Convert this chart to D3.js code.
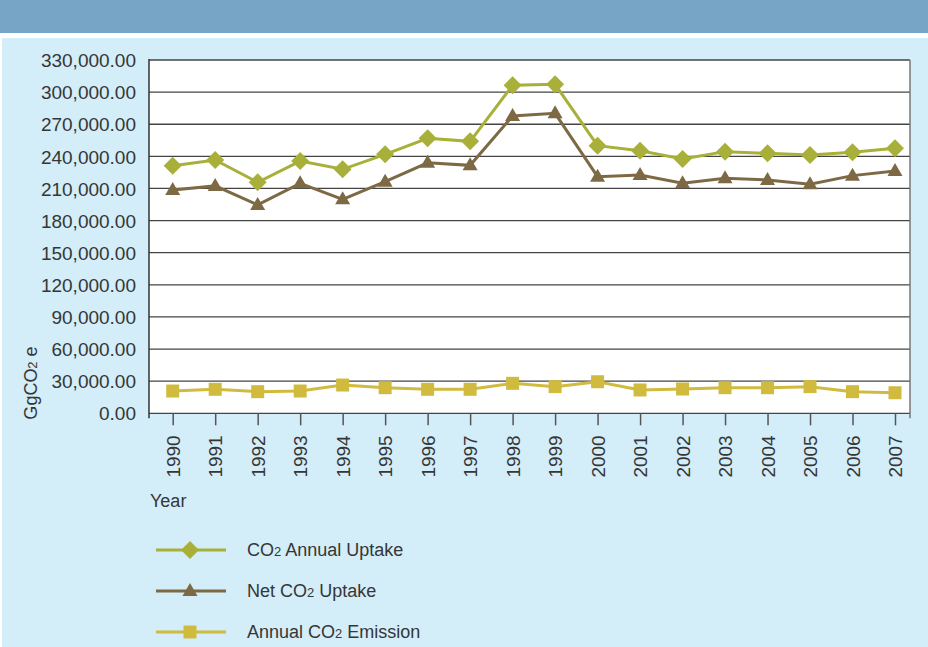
<!DOCTYPE html>
<html>
<head>
<meta charset="utf-8">
<script src="https://cdn.jsdelivr.net/npm/d3@7"></script>
<style>
  body { margin: 0; background: #d3edf9; }
  svg { display: block; font-family: "Liberation Sans", Arial, sans-serif; }
  .axis text { fill: #363636; font-size: 19px; }
</style>
</head>
<body>
<div id="chart"></div>
<script>
const years = ["1990","1991","1992","1993","1994","1995","1996","1997","1998",
  "1999","2000","2001","2002","2003","2004","2005","2006","2007"];
const annualUptake = [231300, 236600, 215800, 235600, 227900, 241900, 256900, 254000, 306400,
  307300, 250000, 245300, 237500, 244400, 242800, 241300, 243800, 247500];
const netUptake = [208600, 212400, 194600, 214800, 199900, 216300, 234000, 231600, 277700,
  280200, 221000, 222600, 214800, 219500, 217900, 213900, 222000, 226300];
const annualEmission = [20800, 22400, 20200, 20800, 26400, 23900, 22400, 22400, 28000,
  24900, 29500, 21800, 22700, 23900, 23900, 24900, 20200, 19200];
const yTicks = [0, 30000, 60000, 90000, 120000, 150000, 180000, 210000, 240000, 270000, 300000, 330000];
const seriesNames = ["Annual Uptake", "Net Uptake", "Annual Emission"];

let w = 928;
let h = 647;
let plotLeft = 149;
let plotRight = 910;
let plotTop = 60;
let plotBottom = 413.3;

let svg = d3.select("#chart").append("svg").attr("width", w).attr("height", h);

// background bands
svg.append("rect").attr("width", w).attr("height", h).attr("fill", "#fff");
svg.append("rect").attr("x", 0).attr("y", 0).attr("width", w).attr("height", 33).attr("fill", "#77a5c5");
svg.append("rect").attr("x", 2).attr("y", 38).attr("width", w - 2).attr("height", h - 38).attr("fill", "#d3edf9");

let x = d3.scalePoint().domain(years).range([172.7, 895]);
let y = d3.scaleLinear().domain([0, 330000]).range([plotBottom, plotTop]);

svg.append("rect")
  .attr("x", plotLeft).attr("y", plotTop)
  .attr("width", plotRight - plotLeft).attr("height", plotBottom - plotTop)
  .attr("fill", "#fff");

// gridlines
svg.append("g")
  .selectAll("line")
  .data(yTicks)
  .join("line")
  .attr("x1", plotLeft).attr("x2", plotRight)
  .attr("y1", d => y(d)).attr("y2", d => y(d))
  .attr("stroke", "#444").attr("stroke-width", 1.3);

// right border
svg.append("line")
  .attr("x1", plotRight).attr("x2", plotRight)
  .attr("y1", plotTop).attr("y2", plotBottom + 5)
  .attr("stroke", "#777").attr("stroke-width", 1.5);

// y axis
let yAxis = d3.axisLeft(y).tickValues(yTicks).tickFormat(d3.format(",.2f")).tickSize(0).tickPadding(13);
let gy = svg.append("g").attr("class", "axis").attr("transform", `translate(${plotLeft},0)`).call(yAxis);
gy.select(".domain").remove();
gy.selectAll("text").attr("dy", "0.35em");
svg.append("line")
  .attr("x1", plotLeft).attr("x2", plotLeft)
  .attr("y1", plotTop - 1).attr("y2", plotBottom + 5)
  .attr("stroke", "#333").attr("stroke-width", 1.5);

// x axis
let xAxis = d3.axisBottom(x).tickSize(12).tickPadding(10);
let gx = svg.append("g").attr("class", "axis").attr("transform", `translate(0,${plotBottom})`).call(xAxis);
gx.select(".domain").remove();
gx.selectAll(".tick line").attr("stroke", "#555").attr("stroke-width", 1.5);
gx.selectAll("text")
  .attr("transform", "rotate(-90)")
  .attr("text-anchor", "end")
  .attr("x", -22).attr("y", 0).attr("dy", "0.35em");

// axis titles
let yTitle = svg.append("text")
  .attr("transform", "translate(37,383) rotate(-90)")
  .attr("text-anchor", "middle")
  .attr("fill", "#363636").attr("font-size", 18);
yTitle.append("tspan").text("GgCO");
yTitle.append("tspan").attr("font-size", 13).text("2");
yTitle.append("tspan").text(" e");

svg.append("text")
  .attr("x", 150).attr("y", 507)
  .attr("fill", "#363636").attr("font-size", 18)
  .text("Year");

// series
const series = [
  { values: annualUptake, color: "#a8b03a", shape: "diamond" },
  { values: netUptake, color: "#7d6a45", shape: "triangle" },
  { values: annualEmission, color: "#d1bb3f", shape: "square" },
];

function marker(shape) {
  if (shape === "diamond") return "M0,-9L9,0L0,9L-9,0Z";
  if (shape === "triangle") return "M0,-8L7.5,5L-7.5,5Z";
  return "M-6.5,-6.5H6.5V6.5H-6.5Z";
}

let line = d3.line().x((d, i) => x(years[i])).y(d => y(d));

series.forEach(function (s) {
  let g = svg.append("g");
  g.append("path")
    .attr("d", line(s.values))
    .attr("fill", "none")
    .attr("stroke", s.color)
    .attr("stroke-width", 3);
  g.selectAll("path.m")
    .data(s.values)
    .join("path")
    .attr("class", "m")
    .attr("transform", (d, i) => `translate(${x(years[i])},${y(d)})`)
    .attr("d", marker(s.shape))
    .attr("fill", s.color);
});

// legend
const legendY = [550, 591, 632];
series.forEach(function (s, i) {
  let g = svg.append("g").attr("transform", `translate(0,${legendY[i]})`);
  g.append("line").attr("x1", 156).attr("x2", 226).attr("stroke", s.color).attr("stroke-width", 3);
  g.append("path").attr("transform", "translate(190,0)").attr("d", marker(s.shape)).attr("fill", s.color);
  let t = g.append("text").attr("x", 247).attr("y", 6).attr("fill", "#363636").attr("font-size", 18);
  if (i === 0) {
    t.append("tspan").text("CO");
    t.append("tspan").attr("font-size", 13).text("2");
    t.append("tspan").text(" " + seriesNames[0]);
  } else if (i === 1) {
    t.append("tspan").text("Net CO");
    t.append("tspan").attr("font-size", 13).text("2");
    t.append("tspan").text(" Uptake");
  } else {
    t.append("tspan").text("Annual CO");
    t.append("tspan").attr("font-size", 13).text("2");
    t.append("tspan").text(" Emission");
  }
});
</script>
</body>
</html>
